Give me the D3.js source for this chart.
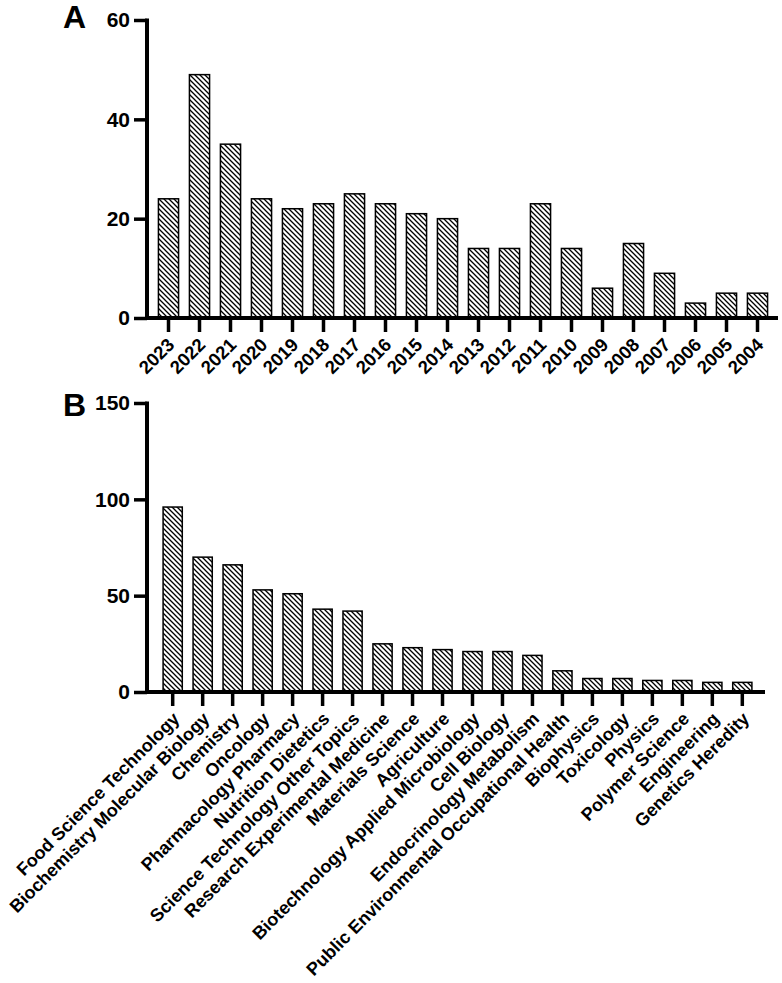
<!DOCTYPE html>
<html>
<head>
<meta charset="utf-8">
<script src="https://cdn.jsdelivr.net/npm/d3@7"></script>
<style>
  body { margin: 0; background: #fff; }
  text { font-family: "Liberation Sans", Arial, sans-serif; font-weight: bold; fill: #000; }
</style>
</head>
<body>
<svg id="chart" width="782" height="983"></svg>
<script>
// panel A: publications per year
var years = ["2023","2022","2021","2020","2019","2018","2017","2016","2015","2014",
             "2013","2012","2011","2010","2009","2008","2007","2006","2005","2004"];
var yearCounts = [24, 49, 35, 24, 22, 23, 25, 23, 21, 20, 14, 14, 23, 14, 6, 15, 9, 3, 5, 5];
var yearTicks = [0, 20, 40, 60];

// panel B: research areas
var areas = ["Food Science Technology", "Biochemistry Molecular Biology", "Chemistry", "Oncology",
             "Pharmacology Pharmacy", "Nutrition Dietetics", "Science Technology Other Topics",
             "Research Experimental Medicine", "Materials Science", "Agriculture",
             "Biotechnology Applied Microbiology", "Cell Biology", "Endocrinology Metabolism",
             "Public Environmental Occupational Health", "Biophysics", "Toxicology", "Physics",
             "Polymer Science", "Engineering", "Genetics Heredity"];
var areaCounts = [96, 70, 66, 53, 51, 43, 42, 25, 23, 22, 21, 21, 19, 11, 7, 7, 6, 6, 5, 5];
var areaTicks = [0, 50, 100, 150];

var svg = d3.select("#chart");

// hatch fill
var defs = svg.append("defs");
var pat = defs.append("pattern")
    .attr("id", "hatch")
    .attr("patternUnits", "userSpaceOnUse")
    .attr("width", 5).attr("height", 5);
pat.append("rect").attr("width", 5).attr("height", 5).attr("fill", "#fff");
pat.append("path")
    .attr("d", "M0,0L5,5M-1,4L1,6M4,-1L6,1")
    .attr("stroke", "#000")
    .attr("stroke-width", 1.3);

function panel(cfg) {
  var x = d3.scaleBand()
      .domain(cfg.cats)
      .range(cfg.xRange)
      .paddingInner(cfg.pad)
      .paddingOuter(cfg.pad / 2);

  var y = d3.scaleLinear()
      .domain([0, cfg.max])
      .range(cfg.yRange);

  var g = svg.append("g");

  g.selectAll("rect.bar")
    .data(cfg.vals)
    .enter().append("rect")
      .attr("class", "bar")
      .attr("x", function(d, i) { return x(cfg.cats[i]); })
      .attr("y", function(d) { return y(d); })
      .attr("width", x.bandwidth())
      .attr("height", function(d) { return y(0) - y(d); })
      .attr("fill", "url(#hatch)")
      .attr("stroke", "#000")
      .attr("stroke-width", 1.5);

  // y axis
  var ya = g.append("g")
      .attr("transform", "translate(" + cfg.axisX + ",0)")
      .call(d3.axisLeft(y).tickValues(cfg.ticks).tickSize(13).tickSizeOuter(0).tickPadding(4));
  ya.select(".domain").remove();
  ya.selectAll(".tick line").attr("stroke-width", 3.5);
  ya.selectAll(".tick text").style("font-size", "21px");
  g.append("line")
      .attr("x1", cfg.axisX).attr("x2", cfg.axisX)
      .attr("y1", y(cfg.max) - 1.5).attr("y2", y(0) + 2)
      .attr("stroke", "#000").attr("stroke-width", 4);

  // x axis
  var xa = g.append("g")
      .attr("transform", "translate(0," + y(0) + ")")
      .call(d3.axisBottom(x).tickSize(14).tickSizeOuter(0));
  xa.select(".domain").remove();
  xa.selectAll(".tick line").attr("stroke-width", 3.5);
  xa.selectAll(".tick text")
      .style("font-size", cfg.labelSize + "px")
      .attr("text-anchor", "end")
      .attr("dy", null)
      .attr("y", null)
      .attr("transform", "translate(" + cfg.labelDx + "," + cfg.labelDy + ") rotate(-45)");
  g.append("line")
      .attr("x1", cfg.axisX - 2).attr("x2", cfg.xEnd)
      .attr("y1", y(0)).attr("y2", y(0))
      .attr("stroke", "#000").attr("stroke-width", 4);

  svg.append("text")
      .attr("x", cfg.letterX).attr("y", cfg.letterY)
      .style("font-size", "32px")
      .text(cfg.letter);
}

panel({
  cats: years, vals: yearCounts, ticks: yearTicks, max: 60,
  xRange: [153, 773], pad: 0.35, yRange: [318, 20],
  axisX: 147, xEnd: 778, labelSize: 18.5, labelDx: 7, labelDy: 28,
  letter: "A", letterX: 63, letterY: 28
});

panel({
  cats: areas, vals: areaCounts, ticks: areaTicks, max: 150,
  xRange: [157.7, 757.3], pad: 0.36, yRange: [692, 403],
  axisX: 147, xEnd: 765, labelSize: 18, labelDx: 8, labelDy: 28,
  letter: "B", letterX: 63, letterY: 416
});
</script>
</body>
</html>
